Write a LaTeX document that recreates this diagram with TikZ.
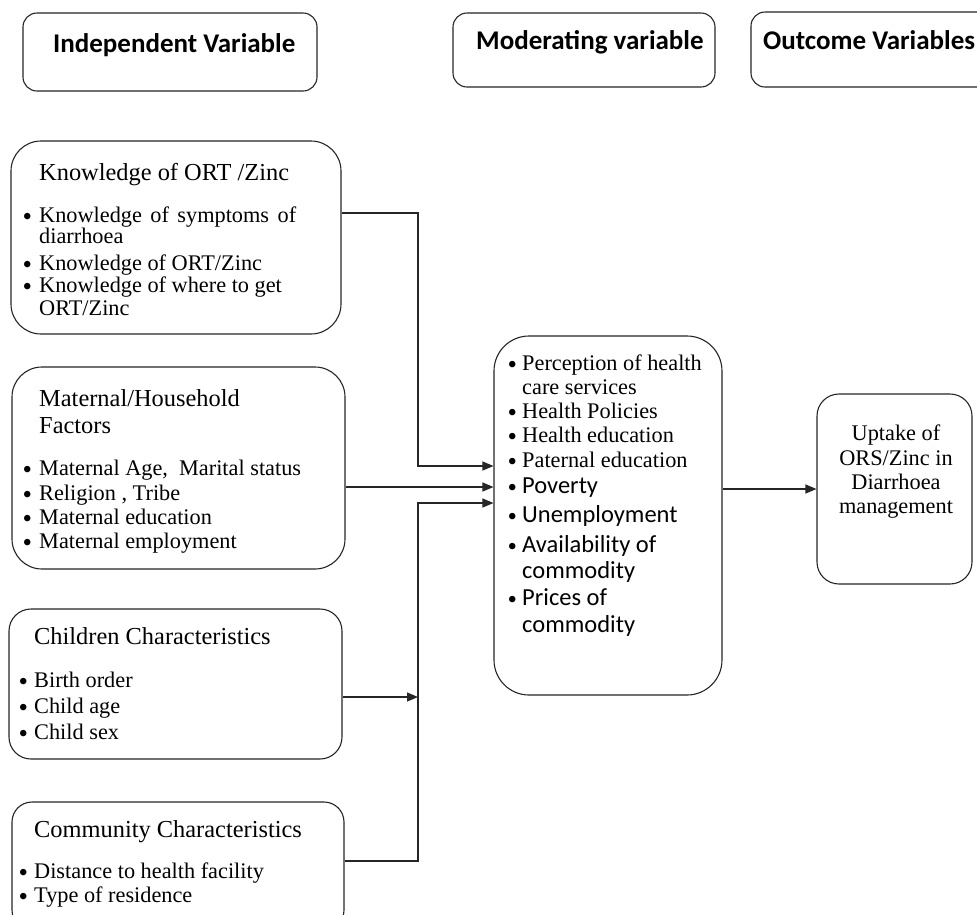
\documentclass[tikz,border=0pt]{standalone}
\usepackage{fontspec}
\setmainfont{Liberation Serif}
\newfontfamily\calfont{Carlito}
\usetikzlibrary{arrows.meta}
\newcommand\titfont{\fontsize{24.4}{28}\selectfont}
\newcommand\bodfont{\fontsize{22.3}{26}\selectfont}
\newcommand\calbod{\calfont\fontsize{24.5}{28}\selectfont}
\newcommand\hdrfont{\calfont\bfseries\fontsize{27}{30}\selectfont}
\newcommand\bul[1]{\makebox[#1][l]{\raisebox{-3.5pt}{\rmfamily\fontsize{27}{27}\selectfont •}}}
\begin{document}
\begin{tikzpicture}[x=1pt,y=-1pt,
  box/.style={draw=black!85,line width=1.1pt,inner sep=0pt},
  txt/.style={anchor=base west,inner sep=0pt,text=black},
  ctr/.style={anchor=base,inner sep=0pt,text=black},
  conn/.style={draw=black!85,line width=1.1pt},
  arr/.style={conn,-{Triangle[length=11pt,width=9pt]}}]
\useasboundingbox[fill=white] (0,0) rectangle (977,914);

% header boxes
\node[box,rounded corners=14pt,minimum width=294pt,minimum height=78pt] (hind) at (170,52) {};
\node[box,rounded corners=14pt,minimum width=262pt,minimum height=74pt] (hmod) at (584,50) {};
\node[box,rounded corners=14pt,minimum width=250pt,minimum height=75pt] (hout) at (876,49.5) {};
\node[txt,font=\hdrfont] (thind) at (53,52) {Independent Variable};
\node[txt,font=\hdrfont] (thmod) at (476,49) {Moderating variable};
\node[txt,font=\hdrfont] (thout) at (763,49) {Outcome Variables};

% independent boxes
\node[box,rounded corners=30pt,minimum width=330pt,minimum height=193pt] (know) at (176,237.5) {};
\node[box,rounded corners=30pt,minimum width=333pt,minimum height=202pt] (mat) at (178.5,468) {};
\node[box,rounded corners=22pt,minimum width=333pt,minimum height=150pt] (chi) at (175.5,684) {};
\node[box,rounded corners=20pt,minimum width=332pt,minimum height=128pt] (com) at (178,866) {};

% moderating and outcome boxes
\node[box,rounded corners=35pt,minimum width=228pt,minimum height=359pt] (mod) at (608,515.5) {};
\node[box,rounded corners=22pt,minimum width=155pt,minimum height=190pt] (upt) at (894.5,489) {};

% knowledge text
\node[txt,font=\titfont] (k0) at (39,180) {Knowledge of ORT /Zinc};
\node[txt,font=\bodfont] (k1) at (22.3,222) {\bul{16.7pt}\makebox[257pt][s]{Knowledge of symptoms of}};
\node[txt,font=\bodfont] (k1b) at (39,243) {diarrhoea};
\node[txt,font=\bodfont] (k2) at (22.3,270) {\bul{16.7pt}Knowledge of ORT/Zinc};
\node[txt,font=\bodfont] (k3) at (22.3,292) {\bul{16.7pt}Knowledge of where to get};
\node[txt,font=\bodfont] (k3b) at (39,315) {ORT/Zinc};

% maternal text
\node[txt,font=\titfont] (m0) at (39,406) {Maternal/Household};
\node[txt,font=\titfont] (m0b) at (39,433) {Factors};
\node[txt,font=\bodfont] (m1) at (22.3,475) {\bul{16.7pt}Maternal Age,~~Marital status};
\node[txt,font=\bodfont] (m2) at (22.3,500) {\bul{16.7pt}Religion , Tribe};
\node[txt,font=\bodfont] (m3) at (22.3,524) {\bul{16.7pt}Maternal education};
\node[txt,font=\bodfont] (m4) at (22.3,548) {\bul{16.7pt}Maternal employment};

% children text
\node[txt,font=\titfont] (c0) at (34,644) {Children Characteristics};
\node[txt,font=\bodfont] (c1) at (18.5,687) {\bul{15.5pt}Birth order};
\node[txt,font=\bodfont] (c2) at (18.5,713) {\bul{15.5pt}Child age};
\node[txt,font=\bodfont] (c3) at (18.5,739) {\bul{15.5pt}Child sex};

% community text
\node[txt,font=\titfont] (o0) at (34,837) {Community Characteristics};
\node[txt,font=\bodfont] (o1) at (18.5,878) {\bul{15.5pt}Distance to health facility};
\node[txt,font=\bodfont] (o2) at (18.5,902) {\bul{15.5pt}Type of residence};

% moderating text
\node[txt,font=\bodfont] (d1) at (507.3,370) {\bul{14.7pt}Perception of health};
\node[txt,font=\bodfont] (d1b) at (522,394) {care services};
\node[txt,font=\bodfont] (d2) at (507.3,418) {\bul{14.7pt}Health Policies};
\node[txt,font=\bodfont] (d3) at (507.3,442) {\bul{14.7pt}Health education};
\node[txt,font=\bodfont] (d4) at (507.3,467) {\bul{14.7pt}Paternal education};
\node[txt,font=\calbod] (d5) at (507.3,493) {\bul{14.7pt}Poverty};
\node[txt,font=\calbod] (d6) at (507.3,522) {\bul{14.7pt}Unemployment};
\node[txt,font=\calbod] (d7) at (507.3,552) {\bul{14.7pt}Availability of};
\node[txt,font=\calbod] (d7b) at (522,578) {commodity};
\node[txt,font=\calbod] (d8) at (507.3,605) {\bul{14.7pt}Prices of};
\node[txt,font=\calbod] (d8b) at (522,632) {commodity};

% outcome text
\node[ctr,font=\bodfont] (u1) at (896,440) {Uptake of};
\node[ctr,font=\bodfont] (u2) at (896,465) {ORS/Zinc in};
\node[ctr,font=\bodfont] (u3) at (896,489) {Diarrhoea};
\node[ctr,font=\bodfont] (u4) at (896,513) {management};

% connector coordinates
\coordinate (b1) at (418,213);
\coordinate (a1) at (418,466);
\coordinate (a2) at (418,487);
\coordinate (a3) at (418,503);
\coordinate (b3) at (418,861);
\coordinate (b4) at (418,697);
\coordinate (a5) at (760,489);

% connectors
\draw[arr] (know.east |- b1) -- (b1) |- (mod.west |- a1);
\draw[arr] (mat.east |- a2) -- (mod.west |- a2);
\draw[arr] (com.east |- b3) -- (b3) |- (mod.west |- a3);
\draw[arr] (chi.east |- b4) -- (b4);
\draw[arr] (mod.east |- a5) -- (upt.west |- a5);
\end{tikzpicture}
\end{document}
